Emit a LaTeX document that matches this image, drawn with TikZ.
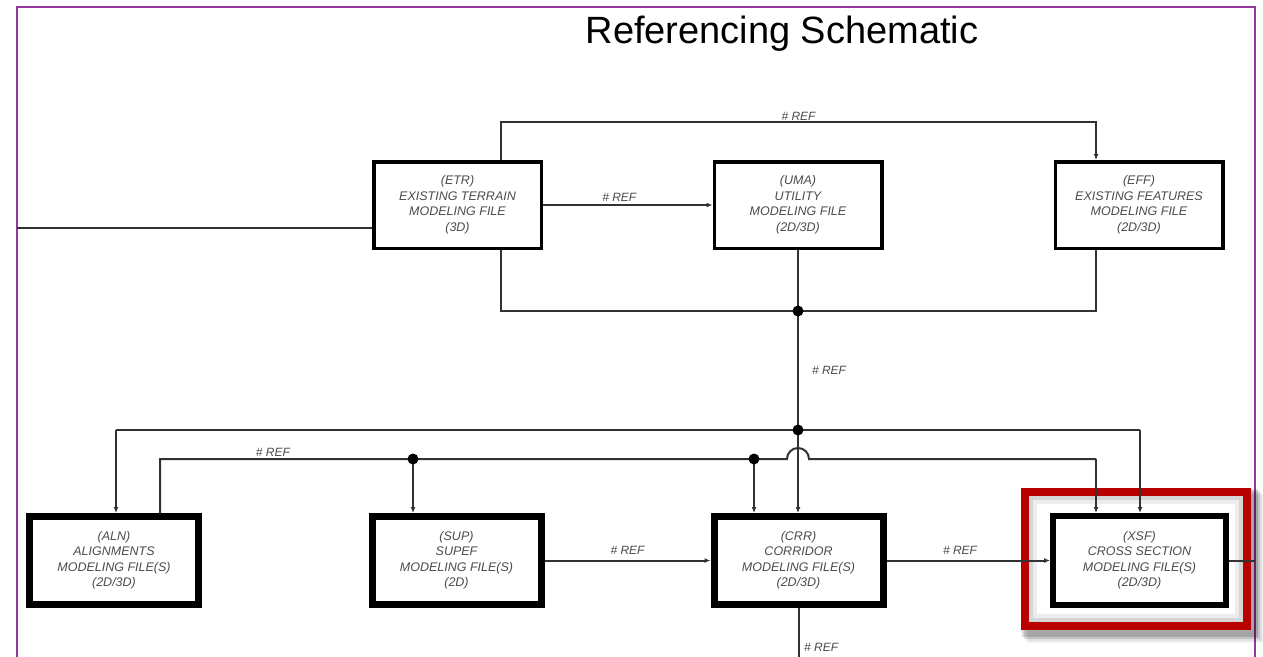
\documentclass[tikz,border=0pt]{standalone}
\usepackage{fontspec}
\setmainfont{Liberation Sans}
\usetikzlibrary{arrows.meta,calc}
\definecolor{framepurple}{RGB}{150,55,160}
\definecolor{hired}{RGB}{185,0,0}
\definecolor{txtgrey}{RGB}{75,75,75}
\definecolor{linegrey}{RGB}{50,50,50}
\tikzset{
  filebox/.style={draw=black, fill=white, align=center, inner sep=0pt, outer sep=auto,
    font=\itshape\fontsize{12.5}{15.5}\selectfont, text=txtgrey},
  topbox/.style={filebox, line width=3.5pt, minimum width=167.5pt, minimum height=86.5pt},
  lowbox/.style={filebox, line width=7pt, minimum width=169pt, minimum height=88pt},
  conn/.style={draw=linegrey, line width=2pt},
  arr/.style={conn, -{Latex[length=6pt,width=5pt]}},
  reflabel/.style={font=\itshape\fontsize{12}{14}\selectfont, text=txtgrey, inner sep=1pt},
  jdot/.style={circle, fill=black, inner sep=0pt, minimum size=11pt}
}
\begin{document}
\begin{tikzpicture}[x=1pt,y=-1pt]
\useasboundingbox (0,0) rectangle (1263,656);
\clip (0,0) rectangle (1263,656);
\fill[white] (0,0) rectangle (1263,656);

% purple frame
\draw[framepurple, line width=2.5pt] (17,700) -- (17,7) -- (1255,7) -- (1255,700);

% title
\node[font=\fontsize{38}{40}\selectfont] (title) at (782,34) {Referencing Schematic};

% red highlight shadow
\foreach \o/\op in {10/0.05,8/0.08,6/0.12,4/0.15}{
  \draw[black, opacity=\op, line width=14pt] (1025+\o,492+\o) rectangle (1247+\o,626+\o);
}
\fill[white] (1029,496) rectangle (1243,622);
\draw[black!16, line width=4pt] (1031,498) rectangle (1241,620);
\draw[black!7, line width=4pt] (1035,502) rectangle (1237,616);

% nodes
\node[topbox] (ETR) at (457.5,205) {(ETR)\\EXISTING TERRAIN\\MODELING FILE\\(3D)};
\node[topbox] (UMA) at (798,205) {(UMA)\\UTILITY\\MODELING FILE\\(2D/3D)};
\node[topbox] (EFF) at (1139,205) {(EFF)\\EXISTING FEATURES\\MODELING FILE\\(2D/3D)};
\node[lowbox] (ALN) at (114,560.5) {(ALN)\\ALIGNMENTS\\MODELING FILE(S)\\(2D/3D)};
\node[lowbox] (SUP) at (456.5,560.5) {(SUP)\\SUPEF\\MODELING FILE(S)\\(2D)};
\node[lowbox] (CRR) at (798.5,560.5) {(CRR)\\CORRIDOR\\MODELING FILE(S)\\(2D/3D)};
\node[lowbox, line width=6pt, minimum width=173pt, minimum height=89pt] (XSF) at (1139.5,560.5) {(XSF)\\CROSS SECTION\\MODELING FILE(S)\\(2D/3D)};

% red highlight frame
\draw[hired, line width=8pt] (1025,492) rectangle (1247,626);

% coordinates
\coordinate (lin) at (17,228);
\coordinate (topL) at (501,122);
\coordinate (topR) at (1096,122);
\coordinate (jB) at (798,311);
\coordinate (jC) at (798,430);
\coordinate (aL) at (116,430);
\coordinate (aR) at (1140,430);
\coordinate (bL) at (160,459);
\coordinate (d1) at (413,459);
\coordinate (d2) at (754,459);
\coordinate (hop) at (787,459);
\coordinate (bR) at (1096,459);
\coordinate (rout) at (1255,560.5);
\coordinate (cb) at (798.5,700);

% top connectors
\draw[conn] (lin) -- (lin -| ETR.west);
\draw[arr] (ETR.east) -- node[reflabel, above=2pt, pos=0.45] (l1) {\# REF} (UMA.west);
\draw[arr] (ETR.north -| topL) -- (topL) -- node[reflabel, above=0pt] (l2) {\# REF} (topR) -- (EFF.north -| topR);
\draw[conn] (ETR.south -| topL) |- (jB) -| (EFF.south -| topR);
\draw[conn] (UMA.south) -- (jB);
\draw[conn] (jB) -- node[reflabel, right=12pt] (l3) {\# REF} (jC);

% distribution lines
\draw[arr] (aL) -- (ALN.north -| aL);
\draw[conn] (aL) -- (aR);
\draw[arr] (aR) -- (XSF.north -| aR);
\draw[arr] (jC) -- (CRR.north -| jC);

\draw[conn] (ALN.north -| bL) -- (bL) -- node[reflabel, above=1pt, pos=0.18] (l4) {\# REF} (hop) arc[start angle=180, end angle=360, radius=11] -- (bR);
\draw[arr] (bR) -- (XSF.north -| bR);
\draw[arr] (d1) -- (SUP.north -| d1);
\draw[arr] (d2) -- (CRR.north -| d2);

% bottom row connectors
\draw[arr] (SUP.east) -- node[reflabel, above=4pt] (l5) {\# REF} (CRR.west);
\draw[arr] (CRR.east) -- node[reflabel, above=4pt, pos=0.45] (l6) {\# REF} (XSF.west);
\draw[conn] (XSF.east) -- (rout);
\draw[conn] (CRR.south) -- (cb);
\node[reflabel, anchor=west] (l7) at (803,647) {\# REF};

% junction dots
\node[jdot] at (jB) {};
\node[jdot] at (jC) {};
\node[jdot] at (d1) {};
\node[jdot] at (d2) {};
\end{tikzpicture}
\end{document}
